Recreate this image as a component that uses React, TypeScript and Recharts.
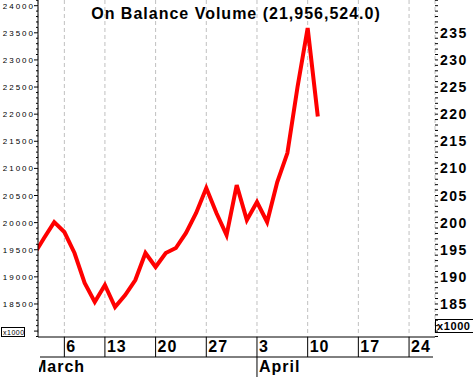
import { LineChart, Line, XAxis, YAxis, CartesianGrid } from "recharts";

// trading sessions, 1 March .. 11 April
const sessions = [
	"Mar 1", "Mar 2", "Mar 3",
	"Mar 6", "Mar 7", "Mar 8", "Mar 9",
	"Mar 13", "Mar 14", "Mar 15", "Mar 16", "Mar 17",
	"Mar 20", "Mar 21", "Mar 22", "Mar 23", "Mar 24",
	"Mar 27", "Mar 28", "Mar 29", "Mar 30", "Mar 31",
	"Apr 3", "Apr 4", "Apr 5", "Apr 6", "Apr 7",
	"Apr 10", "Apr 11",
];

// on balance volume, x1000
const obv = [
	19409, 19716, 20010,
	19827, 19440, 18887, 18536,
	18850, 18444, 18665, 18942, 19440,
	19182, 19440, 19532, 19809, 20177,
	20638, 20177, 19771, 20693, 20048,
	20380, 20011, 20748, 21283, 22500,
	23588, 21956,
];

const weekTicks = [3, 7, 12, 17, 22, 27, 32, 37];
const weekLabels = ["6", "13", "20", "27", "3", "10", "17", "24"];
const months = ["March", "April"];
const monthStarts = [0, 22];

const leftLabels = [18500, 19000, 19500, 20000, 20500, 21000, 21500, 22000, 22500, 23000, 23500, 24000];
const rightLabels = [185, 190, 195, 200, 205, 210, 215, 220, 225, 230, 235];

const TITLE = "On Balance Volume (21,956,524.0)";
const UNIT = "x1000";

const X_DOMAIN = [0.4, 39.56];
const Y_DOMAIN = [17891, 24105];
const R_DOMAIN = [178.91, 241.05];

const leftTicks: number[] = [];
for (let v = 17900; v <= 24100; v += 100) leftTicks.push(v);
const rightTicks: number[] = [];
for (let v = 179; v <= 241; v += 1) rightTicks.push(v);

const data = sessions.map((d, i) => ({ i, date: d, obv: obv[i] }));

const AXIS_L = 38;
const AXIS_R = 435;
const AXIS_B = 337;
const FONT = "'Liberation Sans', Arial, sans-serif";

const LeftTick = ({ y, payload }: any) => {
	const v = payload.value;
	const major = leftLabels.includes(v) || v === 18000;
	return (
		<g>
			<line x1={AXIS_L - (major ? 4 : 2)} x2={AXIS_L} y1={y} y2={y} stroke='#000' />
			{leftLabels.includes(v) && (
				<text x={35} y={y} dy={3} textAnchor='end' fontSize={8} letterSpacing={2} fontFamily={FONT} fill='#000'>
					{v}
				</text>
			)}
		</g>
	);
};

const RightTick = ({ y, payload }: any) => {
	const v = payload.value;
	const major = rightLabels.includes(v);
	return (
		<g>
			<line x1={AXIS_R} x2={AXIS_R + 3} y1={y} y2={y} stroke='#000' />
			{major && (
				<text x={440} y={y} dy={5} fontSize={14} fontWeight='bold' letterSpacing={1.5} fontFamily={FONT} fill='#000'>
					{v}
				</text>
			)}
		</g>
	);
};

const DayTick = ({ x, payload }: any) => {
	const k = weekTicks.indexOf(payload.value);
	const m = monthStarts.indexOf(payload.value);
	return (
		<g>
			<line x1={x} x2={x} y1={AXIS_B} y2={357} stroke='#000' />
			<text x={x + 2} y={352} fontSize={16} fontWeight='bold' letterSpacing={1} fontFamily={FONT} fill='#000'>
				{weekLabels[k]}
			</text>
			{m > 0 && (
				<g>
					<line x1={x} x2={x} y1={357} y2={377} stroke='#000' />
					<text x={x + 2} y={372} fontSize={16} fontWeight='bold' letterSpacing={1} fontFamily={FONT} fill='#000'>
						{months[m]}
					</text>
				</g>
			)}
		</g>
	);
};

const Frame = () => (
	<g>
		<defs>
			<clipPath id='monthClip'>
				<rect x={AXIS_L + 1} y={357} width={200} height={20} />
			</clipPath>
		</defs>
		<text x={236} y={19} textAnchor='middle' fontSize={16} fontWeight='bold' letterSpacing={1} fontFamily={FONT} fill='#000'>
			{TITLE}
		</text>
		<line x1={40} x2={433} y1={357} y2={357} stroke='#000' />
		<text x={33} y={372} fontSize={16} fontWeight='bold' letterSpacing={1} fontFamily={FONT} fill='#000' clipPath='url(#monthClip)'>
			{months[0]}
		</text>
		<rect x={1.5} y={327.5} width={23} height={9} fill='#fff' stroke='#000' />
		<text x={3} y={335} fontSize={7} letterSpacing={0.5} fontFamily={FONT} fill='#000'>{UNIT}</text>
		<rect x={435.5} y={319.5} width={42} height={13} fill='#fff' stroke='#000' />
		<text x={437} y={330} fontSize={11} fontWeight='bold' letterSpacing={0.6} fontFamily={FONT} fill='#000'>{UNIT}</text>
	</g>
);

const App = () => {
	return (
		<div style={{ position: "absolute", left: 0, top: 0, width: 473, height: 377, background: "#fff" }}>
			<LineChart width={473} height={377} data={data} margin={{ top: 0, right: 0, bottom: 0, left: 0 }}>
				<CartesianGrid horizontal={false} vertical stroke='#c0c0c0' strokeDasharray='4 3' />
				<XAxis
					dataKey='i'
					type='number'
					domain={X_DOMAIN}
					allowDataOverflow
					ticks={weekTicks}
					interval={0}
					height={40}
					tickLine={false}
					axisLine={{ stroke: "#000" }}
					tick={<DayTick />}
				/>
				<YAxis
					yAxisId='l'
					orientation='left'
					type='number'
					domain={Y_DOMAIN}
					allowDataOverflow
					ticks={leftTicks}
					interval={0}
					width={38}
					tickLine={false}
					axisLine={{ stroke: "#000" }}
					tick={<LeftTick />}
				/>
				<YAxis
					yAxisId='r'
					orientation='right'
					type='number'
					domain={R_DOMAIN}
					allowDataOverflow
					ticks={rightTicks}
					interval={0}
					width={38}
					tickLine={false}
					axisLine={false}
					tick={<RightTick />}
				/>
				<Line
					yAxisId='l'
					dataKey='obv'
					stroke='#ff0000'
					strokeWidth={4}
					dot={false}
					isAnimationActive={false}
				/>
				<Frame />
			</LineChart>
		</div>
	);
};

export default App;
